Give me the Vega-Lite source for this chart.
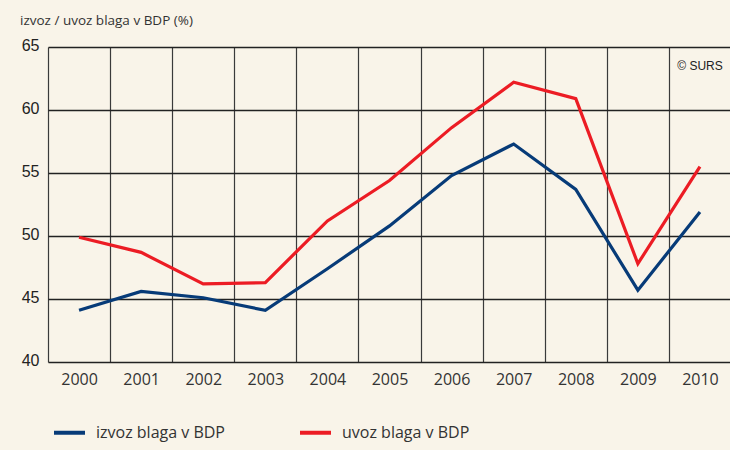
{
  "$schema": "https://vega.github.io/schema/vega-lite/v6.json",
  "autosize": {"type": "none"},
  "width": 683,
  "height": 315,
  "padding": {"left": 48, "top": 47, "right": 0, "bottom": 88},
  "background": "#f9f4e9",
  "title": {"text": "izvoz / uvoz blaga v BDP (%)", "anchor": "start", "frame": "group", "dx": -28, "offset": 10, "font": "Open Sans", "fontSize": 13.5, "fontWeight": "normal", "color": "#333333"},
  "config": {"view": {"stroke": null}},
  "datasets": {
    "main": [
      {"leto": "2000", "serija": "izvoz blaga v BDP", "vrednost": 44.1},
      {"leto": "2001", "serija": "izvoz blaga v BDP", "vrednost": 45.6},
      {"leto": "2002", "serija": "izvoz blaga v BDP", "vrednost": 45.1},
      {"leto": "2003", "serija": "izvoz blaga v BDP", "vrednost": 44.1},
      {"leto": "2004", "serija": "izvoz blaga v BDP", "vrednost": 47.4},
      {"leto": "2005", "serija": "izvoz blaga v BDP", "vrednost": 50.8},
      {"leto": "2006", "serija": "izvoz blaga v BDP", "vrednost": 54.8},
      {"leto": "2007", "serija": "izvoz blaga v BDP", "vrednost": 57.3},
      {"leto": "2008", "serija": "izvoz blaga v BDP", "vrednost": 53.7},
      {"leto": "2009", "serija": "izvoz blaga v BDP", "vrednost": 45.7},
      {"leto": "2010", "serija": "izvoz blaga v BDP", "vrednost": 51.9},
      {"leto": "2000", "serija": "uvoz blaga v BDP", "vrednost": 49.9},
      {"leto": "2001", "serija": "uvoz blaga v BDP", "vrednost": 48.7},
      {"leto": "2002", "serija": "uvoz blaga v BDP", "vrednost": 46.2},
      {"leto": "2003", "serija": "uvoz blaga v BDP", "vrednost": 46.3},
      {"leto": "2004", "serija": "uvoz blaga v BDP", "vrednost": 51.2},
      {"leto": "2005", "serija": "uvoz blaga v BDP", "vrednost": 54.4},
      {"leto": "2006", "serija": "uvoz blaga v BDP", "vrednost": 58.6},
      {"leto": "2007", "serija": "uvoz blaga v BDP", "vrednost": 62.2},
      {"leto": "2008", "serija": "uvoz blaga v BDP", "vrednost": 60.9},
      {"leto": "2009", "serija": "uvoz blaga v BDP", "vrednost": 47.8},
      {"leto": "2010", "serija": "uvoz blaga v BDP", "vrednost": 55.5}
    ],
    "vir": [{"leto": "2010", "vrednost": 63.5, "besedilo": "© SURS"}]
  },
  "layer": [
    {
      "data": {"name": "main"},
      "mark": {"type": "line", "strokeWidth": 3.2, "strokeJoin": "miter"},
      "encoding": {
        "x": {"field": "leto", "type": "ordinal", "scale": {"type": "band", "paddingInner": 0, "paddingOuter": 0},
          "axis": {"title": null, "labelAngle": 0, "tickBand": "extent", "grid": true, "gridColor": "#3a3a3a", "gridWidth": 1.2, "gridOpacity": 1, "ticks": false, "domain": false, "labelFont": "Open Sans", "labelFontSize": 16, "labelColor": "#333333", "labelPadding": 9}},
        "y": {"field": "vrednost", "type": "quantitative", "scale": {"domain": [40, 65], "nice": false, "zero": false},
          "axis": {"title": null, "values": [40, 45, 50, 55, 60, 65], "grid": true, "gridColor": "#222222", "gridWidth": 1.3, "gridOpacity": 1, "ticks": false, "domain": false, "labelFont": "Liberation Sans", "labelFontSize": 16, "labelColor": "#222222", "labelPadding": 9, "labelOffset": -2}},
        "color": {"field": "serija", "type": "nominal",
          "scale": {"domain": ["izvoz blaga v BDP", "uvoz blaga v BDP"], "range": ["#073b78", "#ec1c24"]},
          "legend": {"title": null, "orient": "none", "direction": "horizontal", "legendX": 4, "legendY": 368, "symbolType": "stroke", "symbolSize": 961, "symbolStrokeWidth": 4, "labelFont": "Open Sans", "labelFontSize": 16, "labelColor": "#333333", "labelOffset": 9, "columnPadding": 67}}
      }
    },
    {
      "data": {"name": "vir"},
      "mark": {"type": "text", "font": "Liberation Sans", "fontSize": 12, "color": "#222222", "align": "center"},
      "encoding": {
        "x": {"field": "leto", "type": "ordinal"},
        "y": {"field": "vrednost", "type": "quantitative"},
        "text": {"field": "besedilo"}
      }
    }
  ]
}
